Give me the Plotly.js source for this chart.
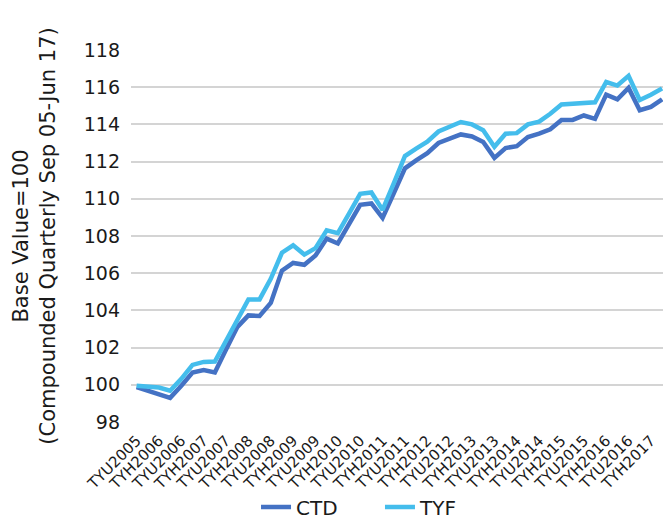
<!DOCTYPE html>
<html>
<head>
<meta charset="utf-8">
<script src="https://cdn.plot.ly/plotly-3.0.1.min.js"></script>
<style>
html,body{margin:0;padding:0;background:#fff;}
#chart{width:663px;height:520px;}
</style>
</head>
<body>
<div id="chart"></div>
<script>
var quarters = ["TYU2005","TYZ2005","TYH2006","TYM2006","TYU2006","TYZ2006","TYH2007","TYM2007",
  "TYU2007","TYZ2007","TYH2008","TYM2008","TYU2008","TYZ2008","TYH2009","TYM2009",
  "TYU2009","TYZ2009","TYH2010","TYM2010","TYU2010","TYZ2010","TYH2011","TYM2011",
  "TYU2011","TYZ2011","TYH2012","TYM2012","TYU2012","TYZ2012","TYH2013","TYM2013",
  "TYU2013","TYZ2013","TYH2014","TYM2014","TYU2014","TYZ2014","TYH2015","TYM2015",
  "TYU2015","TYZ2015","TYH2016","TYM2016","TYU2016","TYZ2016","TYH2017","TYM2017"];

var tickLabels = ["TYU2005","TYH2006","TYU2006","TYH2007","TYU2007","TYH2008","TYU2008","TYH2009",
  "TYU2009","TYH2010","TYU2010","TYH2011","TYU2011","TYH2012","TYU2012","TYH2013",
  "TYU2013","TYH2014","TYU2014","TYH2015","TYU2015","TYH2016","TYU2016","TYH2017"];

var ctd = [99.87,99.68,99.48,99.30,99.95,100.66,100.79,100.66,
  101.90,103.10,103.73,103.70,104.40,106.14,106.55,106.45,
  106.95,107.86,107.60,108.66,109.68,109.75,108.97,110.30,
  111.64,112.07,112.45,113.00,113.26,113.46,113.35,113.05,
  112.20,112.73,112.83,113.32,113.50,113.74,114.24,114.24,
  114.48,114.30,115.60,115.35,115.96,114.76,114.94,115.35];

var tyf = [99.95,99.87,99.85,99.68,100.32,101.07,101.23,101.25,
  102.40,103.55,104.59,104.59,105.70,107.10,107.50,107.00,
  107.35,108.30,108.15,109.20,110.27,110.34,109.40,110.83,
  112.30,112.70,113.07,113.62,113.86,114.13,114.00,113.68,
  112.80,113.50,113.53,114.00,114.15,114.57,115.07,115.13,
  115.19,115.19,116.28,116.09,116.61,115.31,115.59,115.93];

var yTicks = [98,100,102,104,106,108,110,112,114,116,118];

var FONT = "'DejaVu Sans', sans-serif";
var legendFont = {size: 20, family: FONT, color: "#1a1a1a"};

var traces = [
  {x: quarters, y: ctd, type: "scatter", mode: "lines", name: "CTD", legend: "legend",
   line: {color: "#4472C4", width: 4.5}},
  {x: quarters, y: tyf, type: "scatter", mode: "lines", name: "TYF", legend: "legend2",
   line: {color: "#44BDEC", width: 4.5}}
];

var layout = {
  width: 663, height: 520,
  margin: {l: 131, r: 0, t: 50, b: 98, pad: 0},
  paper_bgcolor: "#fff", plot_bgcolor: "#fff",
  font: {family: FONT, color: "#1a1a1a"},
  showlegend: true,
  legend: {orientation: "h", xref: "paper", x: 0.235, xanchor: "left",
    yref: "container", y: 0.025, yanchor: "middle", font: legendFont},
  legend2: {orientation: "h", xref: "paper", x: 0.468, xanchor: "left",
    yref: "container", y: 0.025, yanchor: "middle", font: legendFont},
  xaxis: {
    type: "category",
    categoryorder: "array", categoryarray: quarters,
    range: [-0.5, 47.08],
    tickmode: "array", tickvals: tickLabels, ticktext: tickLabels,
    tickangle: -45,
    tickfont: {size: 15, family: FONT, color: "#1a1a1a"},
    ticklabelstandoff: 6,
    showgrid: false, zeroline: false, showline: false, ticks: "",
    automargin: false
  },
  yaxis: {
    range: [98, 118],
    tickmode: "array", tickvals: yTicks, ticktext: yTicks.map(String),
    tickfont: {size: 19, family: FONT, color: "#1a1a1a"},
    showgrid: true, gridcolor: "#d4d4d4", gridwidth: 2,
    zeroline: false, showline: false, ticks: "",
    ticklabelstandoff: 10,
    automargin: false,
    title: {text: "Base Value=100<br>(Compounded Quarterly Sep 05-Jun 17)",
      font: {size: 21, family: FONT, color: "#1a1a1a"}, standoff: 22}
  }
};

Plotly.newPlot("chart", traces, layout, {displayModeBar: false, staticPlot: true});
</script>
</body>
</html>
